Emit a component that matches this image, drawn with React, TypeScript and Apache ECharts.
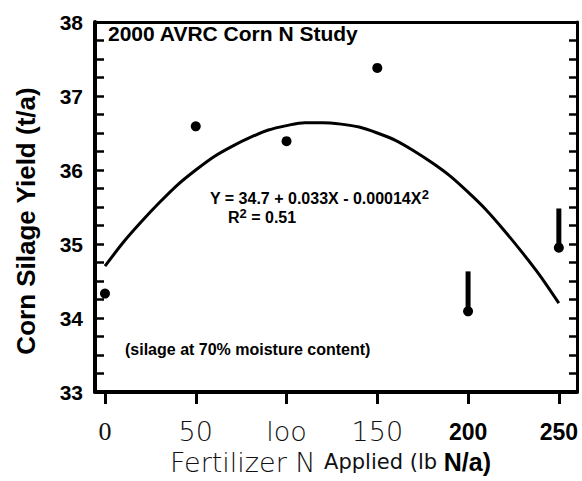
import React, { useEffect, useRef } from "react";
import * as echarts from "echarts";

// Observed data (N rate, lb N/a) and corn silage yield (t/a)
const nRates = [0, 50, 100, 150, 200, 250];
const yieldValues = [34.33, 36.59, 36.39, 37.38, 34.09, 34.95];
// Vertical bars drawn above the 200 and 250 points
const barX = [200, 250];
const barLow = [34.09, 34.95];
const barHigh = [34.63, 35.48];
// Fitted curve
const fitX = [0, 10, 20, 30, 40, 50, 60, 70, 80, 90, 100, 110, 120, 130, 140, 150, 160, 170, 180, 190, 200, 210, 220, 230, 240, 250];
const fitY = [34.7, 35.02, 35.3, 35.56, 35.8, 36.0, 36.18, 36.32, 36.44, 36.54, 36.6, 36.64, 36.64, 36.62, 36.58, 36.5, 36.4, 36.26, 36.1, 35.92, 35.7, 35.46, 35.18, 34.88, 34.56, 34.2];
// Axis ticks / labels
const xTickValues = [0, 50, 100, 150, 200, 250];
const xTickLabels = ["0", "50", "loo", "150", "200", "250"];
const yMin = 33;
const yMax = 38;

const titleText = "2000 AVRC Corn N Study";
const noteText = "(silage at 70% moisture content)";
const yTitle = "Corn Silage Yield (t/a)";

export default function App() {
  const ref = useRef<HTMLDivElement>(null);

  useEffect(() => {
    if (!ref.current) return;
    const chart = echarts.init(ref.current, undefined, { renderer: "svg" });
    const labelStyleKeys = ["s", "l", "l", "l", "b", "b"];
    const bold = "Liberation Sans";
    const intLabel = (v: number) => (Math.abs(v - Math.round(v)) < 1e-6 ? String(Math.round(v)) : "");

    chart.setOption({
      animation: false,
      backgroundColor: "#fff",
      grid: { left: 95, right: 5, top: 22, bottom: 89, containLabel: false, outerBoundsMode: "none" },
      xAxis: [
        {
          type: "value",
          position: "bottom",
          min: -5.5,
          max: 260,
          axisLine: { show: true, onZero: false, lineStyle: { color: "#000", width: 4 } },
          axisTick: {
            show: true,
            inside: false,
            length: 12,
            customValues: xTickValues,
            lineStyle: { color: "#000", width: 3 },
          },
          axisLabel: {
            show: true,
            customValues: xTickValues,
            margin: 28,
            formatter: (v: number) => {
              const i = xTickValues.indexOf(v);
              if (i < 0) return "";
              return "{" + labelStyleKeys[i] + "|" + xTickLabels[i] + "}";
            },
            rich: {
              s: { fontFamily: "Liberation Serif", fontSize: 26, color: "#111", lineHeight: 23 },
              l: { fontFamily: "DejaVu Sans", fontWeight: 200, fontSize: 27, color: "#111", lineHeight: 23 },
              b: { fontFamily: bold, fontWeight: "bold", fontSize: 23, color: "#000", lineHeight: 23 },
            },
          },
          splitLine: { show: false },
        },
        {
          type: "value",
          position: "top",
          min: -5.5,
          max: 260,
          axisLine: { show: true, onZero: false, lineStyle: { color: "#000", width: 3 } },
          axisTick: { show: false },
          axisLabel: { show: false },
          splitLine: { show: false },
        },
      ],
      yAxis: [
        {
          type: "value",
          position: "left",
          min: yMin,
          max: yMax,
          interval: 0.25,
          axisLine: { show: true, onZero: false, lineStyle: { color: "#000", width: 4 } },
          axisTick: { show: true, inside: true, length: 9, lineStyle: { color: "#000", width: 2.5 } },
          axisLabel: {
            show: true,
            margin: 12,
            fontFamily: bold,
            fontWeight: "bold",
            fontSize: 21,
            color: "#000",
            formatter: intLabel,
          },
          splitLine: { show: false },
        },
        {
          type: "value",
          position: "right",
          min: yMin,
          max: yMax,
          interval: 0.25,
          axisLine: { show: true, onZero: false, lineStyle: { color: "#000", width: 3 } },
          axisTick: { show: true, inside: true, length: 8, lineStyle: { color: "#000", width: 2.5 } },
          axisLabel: { show: false },
          splitLine: { show: false },
        },
      ],
      series: [
        {
          type: "line",
          xAxisIndex: 0,
          yAxisIndex: 0,
          data: fitX.map((x, i) => [x, fitY[i]]),
          smooth: 0.3,
          showSymbol: false,
          symbol: "none",
          lineStyle: { color: "#000", width: 3 },
          z: 2,
        },
        {
          type: "custom",
          xAxisIndex: 0,
          yAxisIndex: 0,
          data: barX.map((x, i) => [x, barLow[i], barHigh[i]]),
          renderItem: (params: any, api: any) => {
            const p1 = api.coord([api.value(0), api.value(1)]);
            const p2 = api.coord([api.value(0), api.value(2)]);
            return {
              type: "line",
              shape: { x1: p1[0], y1: p1[1], x2: p2[0], y2: p2[1] },
              style: { stroke: "#000", lineWidth: 5 },
            };
          },
          z: 3,
        },
        {
          type: "scatter",
          xAxisIndex: 0,
          yAxisIndex: 0,
          data: nRates.map((x, i) => [x, yieldValues[i]]),
          symbol: "circle",
          symbolSize: 10,
          itemStyle: { color: "#000", opacity: 1 },
          z: 4,
        },
      ],
      graphic: [
        {
          type: "text",
          x: 108,
          y: 33,
          style: {
            text: titleText,
            fontFamily: bold,
            fontWeight: "bold",
            fontSize: 21,
            fill: "#000",
            textAlign: "left",
            textVerticalAlign: "middle",
          },
        },
        {
          type: "text",
          x: 210,
          y: 197,
          style: {
            text: "{m|Y = 34.7 + 0.033X - 0.00014X}{s|2}",
            textAlign: "left",
            textVerticalAlign: "middle",
            rich: {
              m: { fontFamily: bold, fontWeight: "bold", fontSize: 16, fill: "#000", lineHeight: 18, verticalAlign: "bottom" },
              s: { fontFamily: bold, fontWeight: "bold", fontSize: 13, fill: "#000", lineHeight: 18, verticalAlign: "top", padding: [0, 0, 8, 0] },
            },
          },
        },
        {
          type: "text",
          x: 228,
          y: 216,
          style: {
            text: "{m|R}{s|2}{m| = 0.51}",
            textAlign: "left",
            textVerticalAlign: "middle",
            rich: {
              m: { fontFamily: bold, fontWeight: "bold", fontSize: 16, fill: "#000", lineHeight: 18, verticalAlign: "bottom" },
              s: { fontFamily: bold, fontWeight: "bold", fontSize: 13, fill: "#000", lineHeight: 18, verticalAlign: "top", padding: [0, 0, 8, 0] },
            },
          },
        },
        {
          type: "text",
          x: 125,
          y: 349,
          style: {
            text: noteText,
            fontFamily: bold,
            fontWeight: "bold",
            fontSize: 16,
            fill: "#000",
            textAlign: "left",
            textVerticalAlign: "middle",
          },
        },
        {
          type: "text",
          x: 26,
          y: 221,
          rotation: Math.PI / 2,
          style: {
            text: yTitle,
            fontFamily: bold,
            fontWeight: "bold",
            fontSize: 26,
            fill: "#000",
            textAlign: "center",
            textVerticalAlign: "middle",
          },
        },
        {
          type: "text",
          x: 170,
          y: 462,
          style: {
            text: "{l|Fertilizer N }{r|Applied (lb }{b|N/a)}",
            textAlign: "left",
            textVerticalAlign: "middle",
            rich: {
              l: { fontFamily: "DejaVu Sans", fontWeight: 200, fontSize: 27, fill: "#111", lineHeight: 26 },
              r: { fontFamily: "DejaVu Sans", fontSize: 21, fill: "#111", lineHeight: 26 },
              b: { fontFamily: bold, fontWeight: "bold", fontSize: 25, fill: "#000", lineHeight: 26 },
            },
          },
        },
      ],
    });
    return () => chart.dispose();
  }, []);

  return (
    <div
      ref={ref}
      style={{ position: "fixed", left: 0, top: 0, width: 582, height: 481, background: "#fff" }}
    />
  );
}
